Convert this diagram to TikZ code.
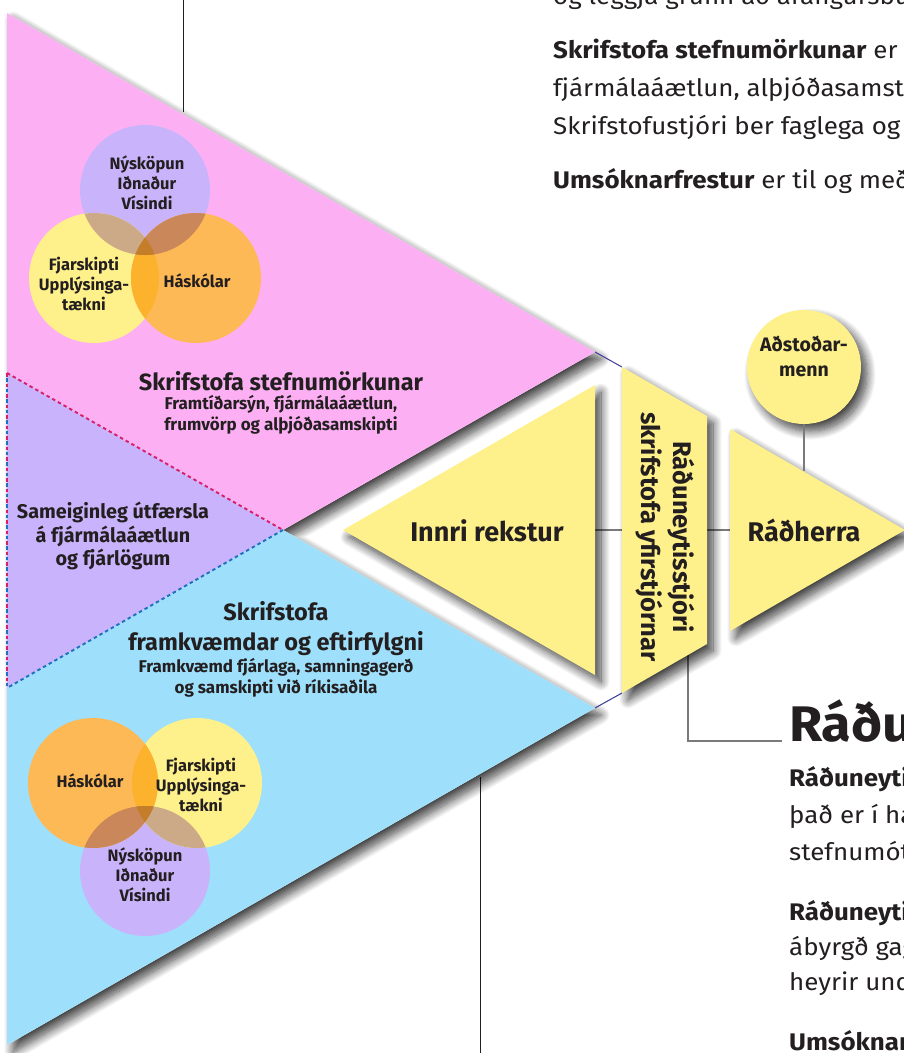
\documentclass[tikz,border=0pt]{standalone}
\usepackage{fontspec}
\setmainfont{Fira Sans}
\newfontfamily\bodyfont[FakeStretch=1.08]{Fira Sans}
\usetikzlibrary{shadows.blur}
\definecolor{cPink}{HTML}{FCB0F3}
\definecolor{cPurple}{HTML}{C9B3FC}
\definecolor{cBlue}{HTML}{9EE0FB}
\definecolor{cYel}{HTML}{FEF08A}
\definecolor{cP}{HTML}{C9B4FB}
\definecolor{cO}{HTML}{FDB955}
\definecolor{cPY}{HTML}{CCAA88}
\definecolor{cPO}{HTML}{C9875A}
\definecolor{cYO}{HTML}{FDB22E}
\definecolor{cPYO}{HTML}{C47E2A}
\definecolor{ink}{HTML}{231F20}
\definecolor{navy}{HTML}{3A3A9A}
\definecolor{dashred}{HTML}{D8206A}
\definecolor{dashblue}{HTML}{2070C0}
\definecolor{conn}{HTML}{7A7A7A}
\tikzset{
  shadowed/.style={blur shadow={shadow xshift=6pt, shadow yshift=-7pt, shadow blur radius=9pt, shadow blur steps=14, shadow opacity=75}},
  lbl/.style={text=ink, align=center, inner sep=0pt},
  vt/.style={lbl, font=\bfseries\fontsize{16.5}{20}\selectfont},
  sub/.style={lbl, font=\bfseries\fontsize{17}{20.5}\selectfont},
  big/.style={lbl, font=\bfseries\fontsize{23.5}{30}\selectfont},
  body/.style={text=ink, anchor=base west, inner sep=0pt, font=\bodyfont\fontsize{24}{28}\selectfont},
  connector/.style={draw=conn, line width=1.2pt},
  blackline/.style={draw=ink, line width=1pt},
  navyline/.style={draw=navy, line width=1pt},
  reddash/.style={draw=dashred, line width=1.9pt, dash pattern=on 3.5pt off 3pt},
  bluedash/.style={draw=dashblue, line width=1.9pt, dash pattern=on 3.5pt off 3pt},
}
\begin{document}
\begin{tikzpicture}[x=1pt,y=-1pt]
\useasboundingbox (0,0) rectangle (904,1053);
\clip (0,0) rectangle (904,1053);
% key points
\coordinate (TL) at (7,13);
\coordinate (BL) at (7,1045);
\coordinate (pinkTip) at (595,352);
\coordinate (notch) at (283,530);
\coordinate (blueTip) at (595,708);
\coordinate (pmTop) at (7,373);
\coordinate (pmBot) at (7,688);
\coordinate (inL) at (343,530);
\coordinate (inT) at (595,385);
\coordinate (inB) at (595,675);
\coordinate (inR) at (595,530);
\coordinate (stTL) at (622,367);
\coordinate (stTR) at (707,416);
\coordinate (stBR) at (707,644);
\coordinate (stBL) at (622,693);
\coordinate (stL) at (622,530);
\coordinate (stR) at (707,530);
\coordinate (stDown) at (688,655);
\coordinate (raT) at (730,429);
\coordinate (raB) at (730,631);
\coordinate (raTip) at (905,530);
\coordinate (raL) at (730,530);
\coordinate (raTop) at (804,471);
\coordinate (headL) at (782,741);
\coordinate (topLineA) at (183,0);
\coordinate (topLineB) at (183,112);
\coordinate (botLineA) at (480,777);
\coordinate (botLineB) at (480,1053);

% lines behind
\path[blackline] (topLineA) -- (topLineB);
\path[blackline] (botLineA) -- (botLineB);

% left big shape
\path[fill=white, shadowed] (TL) -- (pinkTip) -- (notch) -- (blueTip) -- (BL) -- cycle;
\fill[cPink] (TL) -- (pinkTip) -- (notch) -- (pmTop) -- cycle;
\fill[cPurple] (pmTop) -- (notch) -- (pmBot) -- cycle;
\fill[cBlue] (pmBot) -- (notch) -- (blueTip) -- (BL) -- cycle;
\path[reddash] (pmTop) -- (notch);
\path[bluedash] (notch) -- (pmBot);
\path[draw=dashred, line width=1.9pt, dash pattern=on 3.5pt off 7pt] (pmTop) -- (pmBot);
\path[draw=dashblue, line width=1.9pt, dash pattern=on 3.5pt off 7pt, dash phase=5.25pt] (pmTop) -- (pmBot);

% thin navy edges in the gaps
\path[navyline] (pinkTip) -- (stTL);
\path[navyline] (blueTip) -- (stBL);

% connectors
\path[connector] (inR) -- (stL);
\path[connector] (stR) -- (raL);
\path[connector] (stDown) |- (headL);

% yellow pieces
\path[fill=cYel, shadowed] (inL) -- (inT) -- (inB) -- cycle;
\path[fill=cYel, shadowed] (stTL) -- (stTR) -- (stBR) -- (stBL) -- cycle;
\path[fill=cYel, shadowed] (raT) -- (raTip) -- (raB) -- cycle;
\node[circle, minimum size=114pt, fill=cYel, shadowed, inner sep=0pt] (adst) at (804,367) {};
\path[connector] (adst.south) -- (raTop);
\node[lbl, font=\bfseries\fontsize{19.5}{25}\selectfont] (adsttext) at (804,356) {Aðstoðar-\\menn};

% Venn top
\coordinate (vP1) at (145,190);
\coordinate (vY1) at (94,278);
\coordinate (vO1) at (196,278);
\fill[cP] (vP1) circle[radius=65];
\fill[cYel] (vY1) circle[radius=65];
\fill[cO] (vO1) circle[radius=65];
\begin{scope}\clip (vY1) circle[radius=65]; \fill[cYO] (vO1) circle[radius=65];\end{scope}
\begin{scope}\clip (vP1) circle[radius=65]; \fill[cPY] (vY1) circle[radius=65]; \fill[cPO] (vO1) circle[radius=65];
  \clip (vY1) circle[radius=65]; \fill[cPYO] (vO1) circle[radius=65];\end{scope}
\node[vt] (tP1) at (147,183) {Nýsköpun\\Iðnaður\\Vísindi};
\node[vt] (tY1) at (84,284) {Fjarskipti\\Upplýsinga-\\tækni};
\node[vt] (tO1) at (197,281) {Háskólar};

% Venn bottom
\coordinate (vO2) at (93,783);
\coordinate (vY2) at (197,783);
\coordinate (vP2) at (145,871);
\fill[cP] (vP2) circle[radius=65];
\fill[cYel] (vY2) circle[radius=65];
\fill[cO] (vO2) circle[radius=65];
\begin{scope}\clip (vY2) circle[radius=65]; \fill[cYO] (vO2) circle[radius=65];\end{scope}
\begin{scope}\clip (vP2) circle[radius=65]; \fill[cPY] (vY2) circle[radius=65]; \fill[cPO] (vO2) circle[radius=65];
  \clip (vY2) circle[radius=65]; \fill[cPYO] (vO2) circle[radius=65];\end{scope}
\node[vt] (tO2) at (90,781) {Háskólar};
\node[vt] (tY2) at (201,785) {Fjarskipti\\Upplýsinga-\\tækni};
\node[vt] (tP2) at (145,875) {Nýsköpun\\Iðnaður\\Vísindi};

% labels
\node[big] (stefn) at (281,381) {Skrifstofa stefnumörkunar};
\node[sub] (stefnsub) at (281,415) {Framtíðarsýn, fjármálaáætlun,\\frumvörp og alþjóðasamskipti};
\node[lbl, font=\bfseries\fontsize{19.8}{23.5}\selectfont] (samei) at (113,536) {Sameiginleg útfærsla\\á fjármálaáætlun\\og fjárlögum};
\node[big] (framk) at (276,629) {Skrifstofa\\framkvæmdar og eftirfylgni};
\node[sub] (framksub) at (276,678) {Framkvæmd fjárlaga, samningagerð\\og samskipti við ríkisaðila};
\node[lbl, font=\bfseries\fontsize{27}{30}\selectfont] (innri) at (487,531) {Innri rekstur};
\node[lbl, font=\bfseries\fontsize{27}{30}\selectfont] (radh) at (804,530) {Ráðherra};
\node[lbl, rotate=-90, font=\bfseries\fontsize{25.5}{32}\selectfont] (strip) at (665,537) {Ráðuneytisstjóri\\skrifstofa yfirstjórnar};

% body text of the page
\node[body] (p0) at (553,4) {og leggja grunn að árangursbundnu};
\node[body] (p1) at (553,58) {\textbf{Skrifstofa stefnumörkunar} er};
\node[body] (p2) at (553,96) {fjármálaáætlun, alþjóðasamstarf};
\node[body] (p3) at (553,134) {Skrifstofustjóri ber faglega og};
\node[body] (p4) at (553,188) {\textbf{Umsóknarfrestur} er til og með};
\node[body, font=\bodyfont\bfseries\fontsize{50}{54}\selectfont] (head) at (789,741) {Ráðuneyti};
\node[body] (q1) at (789,786) {\textbf{Ráðuneytisstjóri}};
\node[body] (q2) at (789,823) {það er í hans};
\node[body] (q3) at (789,860) {stefnumótun};
\node[body] (q4) at (789,920) {\textbf{Ráðuneytisstjóri}};
\node[body] (q5) at (789,955) {ábyrgð gagnvart};
\node[body] (q6) at (789,990) {heyrir undir};
\node[body] (q7) at (789,1050) {\textbf{Umsóknarfrestur}};
\end{tikzpicture}
\end{document}
